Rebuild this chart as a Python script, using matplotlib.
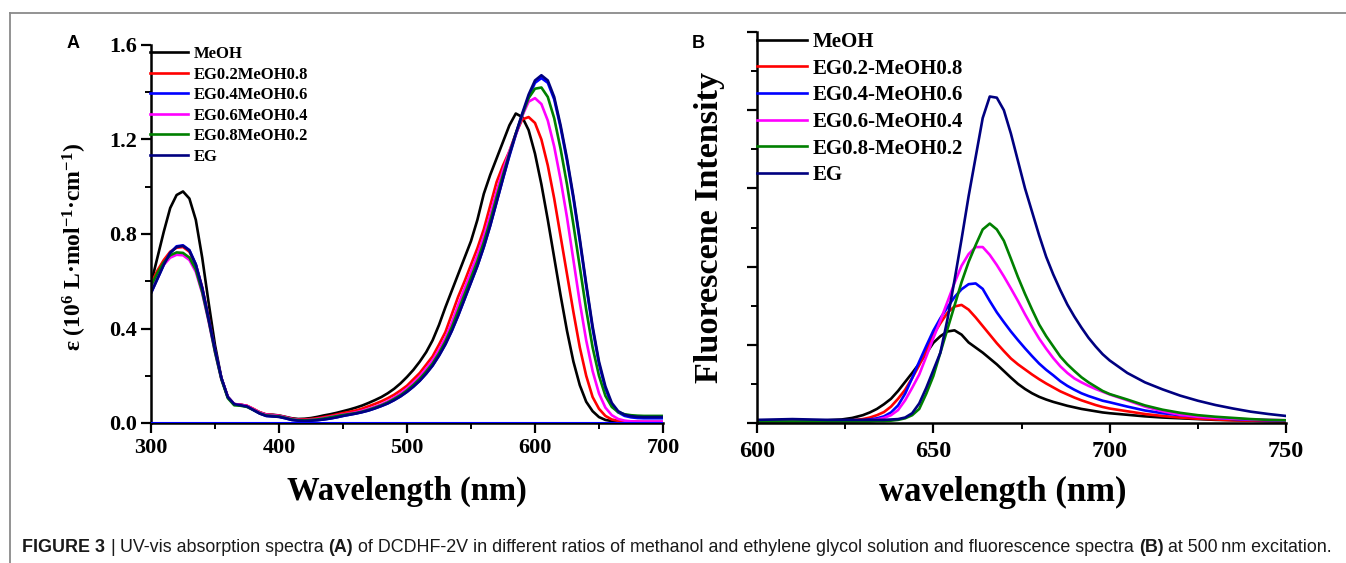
import numpy as np
import matplotlib
matplotlib.use("Agg")
import matplotlib.pyplot as plt
from matplotlib.ticker import MultipleLocator
from matplotlib.lines import Line2D
from matplotlib.transforms import IdentityTransform

W, H = 1346, 563

plt.rcParams['font.family'] = ['Liberation Serif', 'DejaVu Serif']
plt.rcParams['font.weight'] = 'bold'
plt.rcParams['axes.labelweight'] = 'bold'
plt.rcParams['mathtext.default'] = 'regular'

# ---------------- absorption spectra (A), 5 nm grid ----------------
wl_abs = np.arange(300, 701, 5)

abs_meoh = [0.59, 0.70, 0.81, 0.91, 0.965, 0.98, 0.95, 0.86, 0.70, 0.51,
            0.33, 0.19, 0.11, 0.08, 0.078, 0.072, 0.058, 0.045, 0.036, 0.035,
            0.032, 0.026, 0.02, 0.017, 0.018, 0.021, 0.026, 0.032, 0.037, 0.043,
            0.05, 0.057, 0.065, 0.074, 0.085, 0.097, 0.11, 0.126, 0.145, 0.168,
            0.195, 0.225, 0.26, 0.30, 0.35, 0.415, 0.49, 0.56, 0.63, 0.70,
            0.77, 0.86, 0.97, 1.05, 1.12, 1.19, 1.26, 1.31, 1.295, 1.24,
            1.14, 1.01, 0.86, 0.70, 0.54, 0.39, 0.26, 0.16, 0.09, 0.05,
            0.025, 0.013, 0.008, 0.006, 0.005, 0.005, 0.004, 0.004, 0.004, 0.004,
            0.004]
abs_eg02 = [0.59, 0.645, 0.69, 0.725, 0.742, 0.745, 0.725, 0.67, 0.575, 0.445,
            0.31, 0.19, 0.11, 0.08, 0.077, 0.073, 0.06, 0.045, 0.036, 0.034,
            0.031, 0.025, 0.018, 0.015, 0.015, 0.017, 0.02, 0.025, 0.03, 0.036,
            0.042, 0.047, 0.053, 0.061, 0.071, 0.081, 0.092, 0.105, 0.12, 0.138,
            0.158, 0.185, 0.212, 0.247, 0.282, 0.332, 0.385, 0.46, 0.535, 0.60,
            0.67, 0.74, 0.82, 0.92, 1.02, 1.09, 1.15, 1.225, 1.285, 1.295,
            1.27, 1.20, 1.09, 0.95, 0.79, 0.63, 0.47, 0.32, 0.20, 0.11,
            0.06, 0.03, 0.015, 0.009, 0.006, 0.005, 0.005, 0.004, 0.004, 0.004,
            0.004]
abs_eg04 = [0.55, 0.61, 0.67, 0.72, 0.748, 0.752, 0.732, 0.672, 0.572, 0.442,
            0.31, 0.19, 0.11, 0.08, 0.075, 0.07, 0.055, 0.04, 0.03, 0.028,
            0.026, 0.02, 0.013, 0.01, 0.009, 0.01, 0.012, 0.015, 0.019, 0.024,
            0.03, 0.035, 0.04, 0.046, 0.053, 0.062, 0.072, 0.083, 0.097, 0.113,
            0.132, 0.154, 0.179, 0.209, 0.243, 0.285, 0.333, 0.39, 0.455, 0.525,
            0.595, 0.665, 0.745, 0.835, 0.935, 1.035, 1.13, 1.22, 1.30, 1.38,
            1.44, 1.46, 1.44, 1.37, 1.25, 1.11, 0.95, 0.77, 0.58, 0.40,
            0.25, 0.145, 0.078, 0.045, 0.03, 0.024, 0.021, 0.02, 0.02, 0.02,
            0.02]
abs_eg06 = [0.58, 0.63, 0.67, 0.70, 0.712, 0.71, 0.69, 0.64, 0.55, 0.43,
            0.30, 0.185, 0.11, 0.08, 0.077, 0.072, 0.058, 0.044, 0.035, 0.033,
            0.03, 0.024, 0.017, 0.013, 0.012, 0.014, 0.017, 0.021, 0.026, 0.031,
            0.036, 0.04, 0.045, 0.052, 0.06, 0.069, 0.079, 0.092, 0.108, 0.125,
            0.146, 0.17, 0.197, 0.23, 0.265, 0.31, 0.36, 0.425, 0.50, 0.57,
            0.64, 0.71, 0.79, 0.88, 0.98, 1.07, 1.15, 1.22, 1.30, 1.36,
            1.375, 1.35, 1.28, 1.17, 1.03, 0.87, 0.69, 0.51, 0.35, 0.22,
            0.125, 0.065, 0.033, 0.017, 0.01, 0.007, 0.006, 0.006, 0.006, 0.006,
            0.006]
abs_eg08 = [0.58, 0.635, 0.68, 0.71, 0.722, 0.72, 0.70, 0.65, 0.555, 0.435,
            0.30, 0.185, 0.105, 0.075, 0.073, 0.068, 0.055, 0.041, 0.032, 0.03,
            0.028, 0.022, 0.015, 0.012, 0.011, 0.013, 0.015, 0.019, 0.024, 0.029,
            0.034, 0.038, 0.042, 0.048, 0.056, 0.065, 0.075, 0.087, 0.102, 0.118,
            0.138, 0.161, 0.187, 0.218, 0.252, 0.295, 0.345, 0.405, 0.475, 0.545,
            0.615, 0.685, 0.765, 0.855, 0.955, 1.05, 1.14, 1.225, 1.305, 1.375,
            1.415, 1.42, 1.38, 1.29, 1.16, 1.01, 0.84, 0.66, 0.48, 0.32,
            0.20, 0.115, 0.068, 0.046, 0.037, 0.033, 0.031, 0.03, 0.03, 0.03,
            0.03]
abs_eg = [0.55, 0.61, 0.67, 0.72, 0.745, 0.75, 0.73, 0.67, 0.57, 0.44,
          0.31, 0.19, 0.11, 0.08, 0.075, 0.07, 0.055, 0.04, 0.03, 0.028,
          0.026, 0.02, 0.013, 0.01, 0.009, 0.01, 0.012, 0.015, 0.019, 0.024,
          0.03, 0.035, 0.04, 0.046, 0.053, 0.062, 0.072, 0.083, 0.097, 0.113,
          0.132, 0.154, 0.179, 0.209, 0.243, 0.285, 0.333, 0.39, 0.455, 0.525,
          0.595, 0.665, 0.745, 0.835, 0.935, 1.035, 1.135, 1.225, 1.31, 1.39,
          1.45, 1.472, 1.45, 1.38, 1.26, 1.12, 0.96, 0.78, 0.59, 0.41,
          0.26, 0.155, 0.085, 0.05, 0.035, 0.029, 0.026, 0.025, 0.025, 0.025,
          0.025]

abs_labels = ['MeOH', 'EG0.2MeOH0.8', 'EG0.4MeOH0.6', 'EG0.6MeOH0.4',
              'EG0.8MeOH0.2', 'EG']

# ---------------- fluorescence spectra (B) ----------------
wl_fl = np.r_[[600, 605, 610, 615, 620, 624, 627], np.arange(630, 701, 2),
              np.arange(705, 751, 5)]

fl_meoh = [6, 6, 7, 6, 7, 9, 13,
           20, 27, 36, 48, 62, 82, 105, 128, 152, 178, 205, 222, 234, 237, 226, 206,
           193, 180, 165, 150, 133, 116, 100, 87, 76, 67, 60, 54, 49, 44, 40, 36,
           33, 30, 27, 25,
           21, 17, 14, 12, 10, 8, 7, 6, 5, 4]
fl_eg02 = [5, 5, 6, 5, 5, 6, 7,
           10, 14, 20, 28, 42, 62, 85, 115, 148, 185, 226, 255, 282, 298, 302, 290,
           270, 248, 226, 204, 184, 165, 150, 137, 124, 112, 101, 91, 81, 73, 65, 58,
           52, 46, 41, 37,
           30, 23, 18, 14, 11, 9, 7, 6, 5, 4]
fl_eg04 = [5, 5, 5, 5, 5, 5, 6,
           7, 9, 12, 17, 27, 45, 75, 115, 157, 197, 236, 268, 296, 322, 342, 355,
           357, 343, 312, 283, 258, 234, 212, 191, 171, 152, 136, 122, 107, 95, 85, 76,
           69, 63, 57, 53,
           42, 32, 25, 20, 16, 13, 10, 8, 7, 6]
fl_eg06 = [5, 5, 5, 5, 5, 5, 5,
           6, 7, 9, 13, 20, 33, 58, 90, 124, 170, 217, 262, 310, 358, 402, 432,
           450, 450, 430, 404, 375, 344, 312, 278, 246, 216, 190, 166, 145, 128, 114, 104,
           95, 87, 80, 73,
           58, 42, 30, 21, 16, 13, 11, 9, 8, 7]
fl_eg08 = [4, 4, 4, 4, 4, 4, 4,
           4, 4, 5, 5, 6, 8, 12, 20, 36, 75, 120, 180, 240, 300, 360, 412,
           455, 495, 510, 495, 466, 420, 373, 330, 290, 252, 222, 196, 170, 150, 133, 117,
           104, 93, 82, 74,
           60, 45, 34, 26, 20, 16, 13, 10, 8, 7]
fl_eg = [8, 9, 10, 9, 8, 8, 8,
         8, 8, 8, 8, 9, 10, 14, 25, 50, 90, 135, 180, 265, 365, 470, 580,
         680, 780, 835, 832, 800, 740, 670, 600, 540, 480, 425, 380, 340, 303, 272, 244,
         218, 196, 176, 160,
         128, 104, 86, 70, 57, 46, 37, 29, 23, 18]

fl_labels = ['MeOH', 'EG0.2-MeOH0.8', 'EG0.4-MeOH0.6', 'EG0.6-MeOH0.4',
             'EG0.8-MeOH0.2', 'EG']

colors = ['#000000', '#ff0000', '#0000ff', '#ff00ff', '#008000', '#000080']


def px_rect(l, t, r, b):
    return [l / W, 1 - b / H, (r - l) / W, (b - t) / H]


def style_axes(ax, fs, pad):
    for s in ['top', 'right']:
        ax.spines[s].set_visible(False)
    for s in ['left', 'bottom']:
        ax.spines[s].set_linewidth(1.8)
    ax.tick_params(which='major', direction='out', length=7, width=1.6,
                   labelsize=fs, pad=pad)
    ax.tick_params(which='minor', direction='out', length=4, width=1.4)


fig = plt.figure(figsize=(W / 100, H / 100), dpi=100)

# ---- panel A ----
axA = fig.add_axes(px_rect(151, 45, 663, 423))
for y, c, lab in zip([abs_meoh, abs_eg02, abs_eg04, abs_eg06, abs_eg08, abs_eg],
                     colors, abs_labels):
    axA.plot(wl_abs, y, color=c, lw=1.9, label=lab)
axA.axhline(0, color='#0000ff', lw=1.5, zorder=3)
axA.set_xlim(300, 700)
axA.set_ylim(0, 1.6)
axA.xaxis.set_major_locator(MultipleLocator(100))
axA.xaxis.set_minor_locator(MultipleLocator(50))
axA.yaxis.set_major_locator(MultipleLocator(0.4))
axA.yaxis.set_minor_locator(MultipleLocator(0.2))
axA.yaxis.set_major_formatter(lambda v, p: f'{v:.1f}')
style_axes(axA, 16, 4)
axA.tick_params(axis='y', pad=3)
axA.set_xlabel('Wavelength (nm)', fontsize=23.5)
axA.xaxis.set_label_coords(0.5, -0.14)
axA.set_ylabel('ε (10$^{6}$ L·mol$^{-1}$·cm$^{-1}$)', fontsize=17)
axA.yaxis.set_label_coords(-0.121, 0.466)
axA.legend(loc='upper left', bbox_to_anchor=(-0.002, 0.997), frameon=False,
           fontsize=12, handlelength=2.3, handletextpad=0.3, labelspacing=0.27,
           borderpad=0, borderaxespad=0)

# ---- panel B ----
axB = fig.add_axes(px_rect(757, 32, 1286, 423))
for y, c, lab in zip([fl_meoh, fl_eg02, fl_eg04, fl_eg06, fl_eg08, fl_eg],
                     colors, fl_labels):
    axB.plot(wl_fl, y, color=c, lw=1.9, label=lab)
axB.set_xlim(600, 750)
axB.set_ylim(0, 1000)
axB.xaxis.set_major_locator(MultipleLocator(50))
axB.xaxis.set_minor_locator(MultipleLocator(25))
axB.yaxis.set_major_locator(MultipleLocator(200))
axB.yaxis.set_minor_locator(MultipleLocator(100))
style_axes(axB, 17.5, 6)
axB.tick_params(labelleft=False)
axB.set_xlabel('wavelength (nm)', fontsize=25)
axB.xaxis.set_label_coords(0.465, -0.135)
axB.set_ylabel('Fluorescene Intensity', fontsize=24.6)
axB.yaxis.set_label_coords(-0.06, 0.5)
axB.legend(loc='upper left', bbox_to_anchor=(0, 1.0), frameon=False,
           fontsize=15, handlelength=2.4, handletextpad=0.25, labelspacing=0.32,
           borderpad=0, borderaxespad=0)

# panel letters
for x, s in [(73, 'A'), (698, 'B')]:
    fig.text(x / W, 1 - 43 / H, s, fontsize=13, fontweight='bold',
             family=['Liberation Sans', 'DejaVu Sans'], ha='center', va='center')

# frame lines
fig.add_artist(Line2D([9.5 / W, 1], [1 - 12.7 / H] * 2, color='#8a8a8a', lw=1.3))
fig.add_artist(Line2D([9.5 / W] * 2, [0, 1 - 12.7 / H], color='#8a8a8a', lw=1.3))

# caption, built piece by piece so bold parts sit inline
cap_parts = [('FIGURE 3', 'bold'), ('|', 'normal'),
             ('UV-vis absorption spectra', 'normal'), ('(A)', 'bold'),
             ('of DCDHF-2V in different ratios of methanol and ethylene glycol '
              'solution and fluorescence spectra', 'normal'),
             ('(B)', 'bold'), ('at 500\u2009nm excitation.', 'normal')]
cap_family = ['Liberation Sans Narrow', 'Liberation Sans', 'DejaVu Sans']
renderer = fig.canvas.get_renderer()


def caption_width(fs):
    sp = fig.text(0, 0, 'x x', fontsize=fs, family=cap_family, fontweight='normal')
    nsp = fig.text(0, 0, 'xx', fontsize=fs, family=cap_family, fontweight='normal')
    gap = sp.get_window_extent(renderer).width - nsp.get_window_extent(renderer).width
    sp.remove()
    nsp.remove()
    widths = []
    for s, w in cap_parts:
        t = fig.text(0, 0, s, fontsize=fs, family=cap_family, fontweight=w)
        widths.append(t.get_window_extent(renderer).width)
        t.remove()
    return widths, gap


fs = 12
widths, gap = caption_width(fs)
total = sum(widths) + gap * (len(widths) - 1)
fs = fs * 1316 / total
widths, gap = caption_width(fs)
x = 22
for (s, w), wd in zip(cap_parts, widths):
    fig.text(x, H - 547, s, fontsize=fs, family=cap_family, fontweight=w,
             color='#1a1a1a', va='center', transform=IdentityTransform())
    x += wd + gap

fig.savefig('out.png', dpi=100)
